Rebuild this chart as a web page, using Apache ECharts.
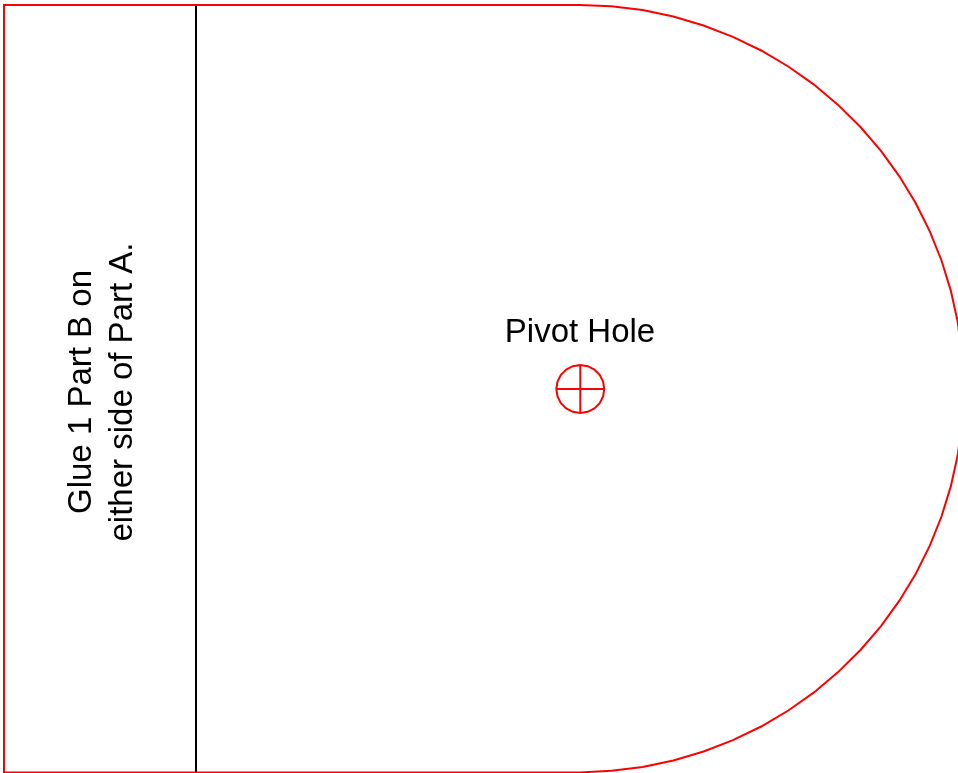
<!DOCTYPE html>
<html>
<head>
<meta charset="utf-8">
<style>html,body{margin:0;padding:0;background:#fff;overflow:hidden}#c{width:958px;height:773px}</style>
<script src="https://cdn.jsdelivr.net/npm/echarts@6/dist/echarts.min.js"></script>
</head>
<body>
<div id="c"></div>
<script>
const outline = [[580,5],[611.4,6.3],[642.6,10.1],[673.4,16.5],[703.6,25.5],[732.9,36.8],[761.2,50.5],[788.3,66.5],[814,84.6],[838.1,104.9],[860.5,127],[881,150.8],[899.4,176.3],[915.8,203.2],[929.8,231.3],[941.5,260.5],[950.8,290.6],[957.6,321.2],[961.8,352.4],[963.5,383.8],[961.8,424.6],[957.6,455.8],[950.8,486.4],[941.5,516.5],[929.8,545.7],[915.8,573.8],[899.4,600.7],[881,626.2],[860.5,650],[838.1,672.1],[814,692.4],[788.3,710.5],[761.2,726.5],[732.9,740.2],[703.6,751.5],[673.4,760.5],[642.6,766.9],[611.4,770.7],[580,772.5],[4,772.5],[4,5],[580,5]];
const foldLine = [[196,5],[196,772.5]];
const holeCircle = [[580.3,365],[587.7,366.2],[594.4,369.6],[599.7,374.9],[603.1,381.6],[604.3,389],[603.1,396.4],[599.7,403.1],[594.4,408.4],[587.7,411.8],[580.3,413],[572.9,411.8],[566.2,408.4],[560.9,403.1],[557.5,396.4],[556.3,389],[557.5,381.6],[560.9,374.9],[566.2,369.6],[572.9,366.2],[580.3,365]];
const holeCrossV = [[580.3,365],[580.3,413]];
const holeCrossH = [[556.3,389],[604.3,389]];
const pivotLabel = [[580,333,'Pivot Hole']];
const glueLabel = [[82,392,'Glue 1 Part B on'],[123,392,'either side of Part A.']];

const RED = '#ff0000', BLACK = '#000000';
const FONT = '"Liberation Sans", Arial, sans-serif';
const lineSeries = (data, color) => ({
  type: 'line', data, symbol: 'none', silent: true, animation: false,
  lineStyle: { color, width: 2, cap: 'butt', join: 'miter' }
});
const textSeries = (data, rotate) => ({
  type: 'scatter', data, symbolSize: 0, silent: true, animation: false,
  itemStyle: { opacity: 1, color: '#000' },
  label: {
    show: true, position: 'inside', rotate, color: '#000', opacity: 1, fontFamily: FONT, fontSize: 33,
    align: 'center', verticalAlign: 'middle', formatter: p => p.data[2]
  }
});
const chart = echarts.init(document.getElementById('c'), null, { renderer: 'canvas' });
chart.setOption({
  backgroundColor: '#fff',
  animation: false,
  tooltip: { show: false },
  grid: { left: 0, right: 0, top: 0, bottom: 0, containLabel: false },
  xAxis: { type: 'value', min: 0, max: 958, show: false },
  yAxis: { type: 'value', min: 0, max: 773, inverse: true, show: false },
  series: [
    lineSeries(foldLine, BLACK),
    lineSeries(outline, RED),
    lineSeries(holeCircle, RED),
    lineSeries(holeCrossV, RED),
    lineSeries(holeCrossH, RED),
    textSeries(pivotLabel, 0),
    textSeries(glueLabel, 90)
  ]
});
</script>
</body>
</html>
